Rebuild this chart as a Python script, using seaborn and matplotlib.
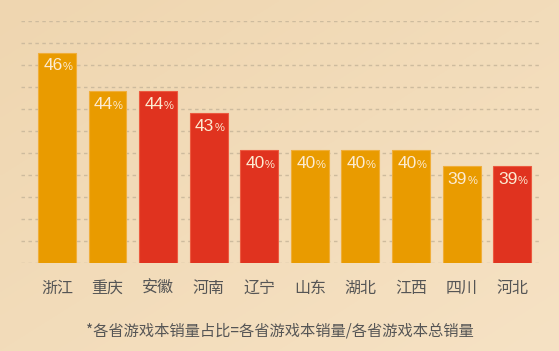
import numpy as np
import pandas as pd
import matplotlib
matplotlib.use("Agg")
import matplotlib.pyplot as plt
import seaborn as sns

# dados
provincias = ['浙江', '重庆', '安徽', '河南', '辽宁', '山东', '湖北', '江西', '四川', '河北']
valores = [46.4, 44.0, 44.0, 42.6, 40.3, 40.3, 40.3, 40.3, 39.3, 39.3]
grupos = ['a', 'a', 'b', 'b', 'b', 'a', 'a', 'a', 'a', 'b']
nota = '*各省游戏本销量占比=各省游戏本销量/各省游戏本总销量'

cores = {'a': '#E99B00', 'b': '#E0331F'}
bordas = {'a': '#F0AE3A', 'b': '#EC5A40'}

df = pd.DataFrame({'provincia': provincias, 'valor': valores, 'grupo': grupos})

sns.set_style('white')
plt.rcParams['font.family'] = ['Noto Sans CJK SC', 'DejaVu Sans']

fig = plt.figure(figsize=(5.59, 3.51), dpi=100)

# fundo em degradê bege
bg = fig.add_axes([0, 0, 1, 1], zorder=-10)
yy, xx = np.mgrid[0:1:200j, 0:1:200j]
t = (xx * 0.5 + yy * 0.5)
c0 = np.array([239, 214, 176]) / 255
c1 = np.array([246, 226, 196]) / 255
img = c0[None, None, :] * (1 - t[..., None]) + c1[None, None, :] * t[..., None]
bg.imshow(img, aspect='auto', extent=[0, 1, 0, 1], origin='upper')
bg.axis('off')

ax = fig.add_axes([21 / 559, 88 / 351, 520 / 559, 242 / 351])
ax.patch.set_alpha(0)

sns.barplot(data=df, x='provincia', y='valor', hue='grupo', palette=cores,
            dodge=False, legend=False, width=0.75, saturation=1, ax=ax, zorder=3)

base = 33.25
passo = 1.375
ax.set_ylim(base, base + 11 * passo)
ax.set_xlim(-0.71, 9.57)
ax.set_yticks(base + passo * np.arange(12))
ax.yaxis.grid(True, color='#CDBB9E', linestyle=(0, (2.5, 2.5)), linewidth=1.0)
ax.set_axisbelow(True)

# bordas um pouco mais claras em cada barra
for patch in ax.patches:
    fc = matplotlib.colors.to_hex(patch.get_facecolor())
    for k, v in cores.items():
        if fc.lower() == v.lower():
            patch.set_edgecolor(bordas[k])
            patch.set_linewidth(0.8)

# rótulos de percentual
for i, v in enumerate(valores):
    ax.annotate(f'{v:.0f}', xy=(i, v), xytext=(4, -9.5), textcoords='offset points',
                ha='right', va='center', color='#FCEBD2', fontsize=12.5,
                family='Liberation Sans')
    ax.annotate('%', xy=(i, v), xytext=(4, -10.5), textcoords='offset points',
                ha='left', va='center', color='#FCEBD2', fontsize=8,
                family='Liberation Sans')

ax.set_xlabel('')
ax.set_ylabel('')
ax.set_yticklabels([])
ax.tick_params(axis='y', length=0)
ax.tick_params(axis='x', length=0, pad=12, labelsize=11.5, labelcolor='#555555')
sns.despine(ax=ax, left=True, bottom=True)

fig.text(0.5, 1 - 331 / 351, nota, ha='center', va='center',
         fontsize=11, color='#555555')

fig.savefig('out.png', dpi=100)
